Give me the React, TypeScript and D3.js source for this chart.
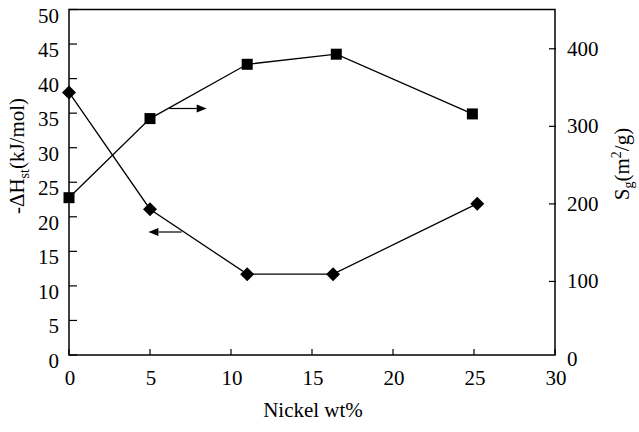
import React from 'react';
import * as d3 from 'd3';

const nickelH = [0, 5, 11, 16.3, 25.2];
const deltaH = [38, 21.1, 11.7, 11.7, 21.9];
const nickelS = [0, 5, 11, 16.5, 24.9];
const surfaceArea = [208, 310, 380, 393, 316];
const xTicks = [0, 5, 10, 15, 20, 25, 30];
const leftTicks = [0, 5, 10, 15, 20, 25, 30, 35, 40, 45, 50];
const rightTicks = [0, 100, 200, 300, 400];
// annotation arrows: [x from, x to, y value]
const arrowRight = [6.2, 8.5, 323];
const arrowLeft = [6.95, 4.9, 17.8];

const W = 639;
const H = 432;
const FONT = '"Liberation Serif", "Times New Roman", serif';
const FS = 21;

export default function App() {
  const x = d3.scaleLinear().domain([0, 30]).range([69, 555]);
  const yL = d3.scaleLinear().domain([0, 50]).range([355, 9.5]);
  const yR = d3.scaleLinear().domain([0, 450]).range([359, 10]);

  const hPts: [number, number][] = nickelH.map((v, i) => [x(v), yL(deltaH[i])]);
  const sPts: [number, number][] = nickelS.map((v, i) => [x(v), yR(surfaceArea[i])]);
  const line = d3.line();

  const arrow = (x1: number, x2: number, y: number, key: string) => {
    const dir = x2 > x1 ? 1 : -1;
    const headLen = 10;
    const base = x2 - dir * headLen;
    return (
      <g key={key}>
        <line x1={x1} y1={y} x2={base} y2={y} stroke="#000" strokeWidth={1.2} />
        <path d={`M${x2},${y} L${base},${y - 4} L${base},${y + 4} Z`} fill="#000" />
      </g>
    );
  };

  const left = x(0);
  const right = x(30);
  const bottom = yL(0);
  const top = yL(50);

  return (
    <svg
      width={W}
      height={H}
      style={{ position: 'absolute', left: 0, top: 0, background: '#fff' }}
      fontFamily={FONT}
    >
      <rect x={0} y={0} width={W} height={H} fill="#fff" />
      <rect x={left} y={top} width={right - left} height={bottom - top} fill="none" stroke="#000" strokeWidth={1.5} />
      {xTicks.map((t) => (
        <g key={'x' + t}>
          <line x1={x(t)} x2={x(t)} y1={bottom} y2={bottom - 6} stroke="#000" strokeWidth={1.2} />
          <text x={x(t) + 1} y={385} fontSize={FS} textAnchor="middle">{t}</text>
        </g>
      ))}
      {leftTicks.map((t) => (
        <g key={'l' + t}>
          <line x1={left} x2={left + 8} y1={yL(t)} y2={yL(t)} stroke="#000" strokeWidth={1.2} />
          <text x={59} y={yL(t) + 13} fontSize={FS} textAnchor="end">{t}</text>
        </g>
      ))}
      {rightTicks.map((t) => (
        <g key={'r' + t}>
          {t > 0 && <line x1={right - 6} x2={right + 1} y1={yR(t)} y2={yR(t)} stroke="#000" strokeWidth={1.2} />}
          <text x={567} y={yR(t) + 7} fontSize={FS} textAnchor="start">{t}</text>
        </g>
      ))}
      <path d={line(hPts) || ''} fill="none" stroke="#000" strokeWidth={1.3} />
      <path d={line(sPts) || ''} fill="none" stroke="#000" strokeWidth={1.3} />
      {hPts.map(([px, py], i) => (
        <path key={'d' + i} d={`M${px},${py - 7} L${px + 7},${py} L${px},${py + 7} L${px - 7},${py} Z`} fill="#000" />
      ))}
      {sPts.map(([px, py], i) => (
        <rect key={'s' + i} x={px - 5.5} y={py - 5.5} width={11} height={11} fill="#000" />
      ))}
      {arrow(x(arrowRight[0]), x(arrowRight[1]), yR(arrowRight[2]), 'ar')}
      {arrow(x(arrowLeft[0]), x(arrowLeft[1]), yL(arrowLeft[2]), 'al')}
      <text x={313} y={417} fontSize={FS} textAnchor="middle">Nickel wt%</text>
      <text transform="translate(24,156) rotate(-90)" fontSize={FS} textAnchor="middle">
        -ΔH<tspan fontSize={14} dy={5}>st</tspan><tspan dy={-5}>(kJ/mol)</tspan>
      </text>
      <text transform="translate(629,164) rotate(-90)" fontSize={FS} textAnchor="middle">
        S<tspan fontSize={14} dy={4}>g</tspan><tspan dy={-4}>(m</tspan><tspan fontSize={14} dy={-8}>2</tspan><tspan dy={8}>/g)</tspan>
      </text>
    </svg>
  );
}
